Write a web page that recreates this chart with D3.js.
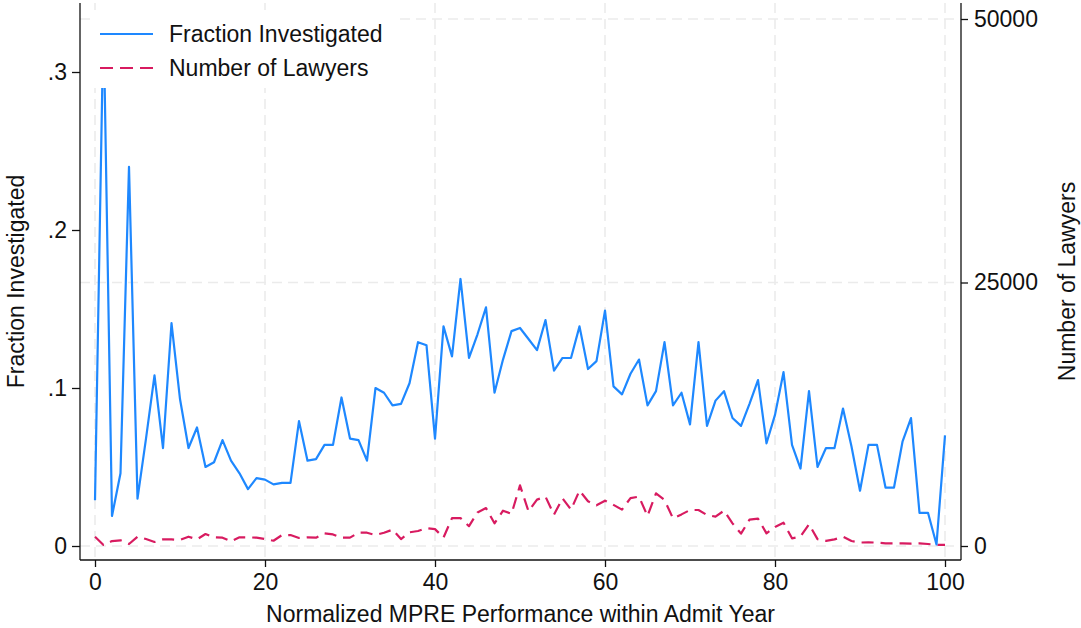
<!DOCTYPE html>
<html>
<head>
<meta charset="utf-8">
<script src="https://cdn.jsdelivr.net/npm/d3@7"></script>
<style>
  html, body { margin: 0; padding: 0; background: #fff; }
  svg { display: block; font-family: "Liberation Sans", Arial, Helvetica, sans-serif; }
</style>
</head>
<body>
<svg id="chart" width="1081" height="628"></svg>
<script>
// MPRE score percentile (0-100)
const mpreScore = d3.range(0, 101);

// Share of lawyers investigated at each score
const fractionInvestigated = [
  0.029, 0.335, 0.019, 0.046, 0.240, 0.030, 0.068, 0.108, 0.062, 0.141,
  0.093, 0.062, 0.075, 0.050, 0.053, 0.067, 0.054, 0.046, 0.036, 0.043,
  0.042, 0.039, 0.040, 0.040, 0.079, 0.054, 0.055, 0.064, 0.064, 0.094,
  0.068, 0.067, 0.054, 0.100, 0.097, 0.089, 0.090, 0.103, 0.129, 0.127,
  0.068, 0.139, 0.120, 0.169, 0.119, 0.134, 0.151, 0.097, 0.118, 0.136,
  0.138, 0.131, 0.124, 0.143, 0.111, 0.119, 0.119, 0.139, 0.112, 0.117,
  0.149, 0.101, 0.096, 0.109, 0.118, 0.089, 0.098, 0.129, 0.089, 0.097,
  0.077, 0.129, 0.076, 0.092, 0.098, 0.081, 0.076, 0.090, 0.105, 0.065,
  0.083, 0.110, 0.064, 0.049, 0.098, 0.050, 0.062, 0.062, 0.087, 0.063,
  0.035, 0.064, 0.064, 0.037, 0.037, 0.066, 0.081, 0.021, 0.021, 0.001,
  0.070
];

// Number of lawyers at each score
const numberOfLawyers = [
  880, 100, 470, 540, 190, 880, 660, 380, 630, 630,
  570, 880, 630, 1140, 825, 790, 440, 825, 825, 790,
  660, 500, 1040, 1040, 760, 825, 790, 1200, 1100, 790,
  790, 1260, 1260, 1040, 1260, 1550, 660, 1300, 1420, 1700,
  1600, 800, 2650, 2650, 1880, 3180, 3600, 2150, 3350, 3050,
  5750, 3300, 4400, 4680, 2970, 4525, 3450, 5250, 4250, 3860,
  4300, 3900, 3450, 4550, 4680, 2850, 5000, 4365, 2625, 3000,
  3415, 3415, 2940, 2780, 3350, 2150, 1170, 2500, 2600, 1200,
  1800, 2210, 727, 900, 2060, 650, 490, 630, 880, 474,
  330, 350, 316, 253, 253, 253, 220, 253, 190, 110,
  100
];

// Axis ticks
const xTicks = [0, 20, 40, 60, 80, 100];
const leftTicks = [0, 0.1, 0.2, 0.3];
const leftTickLabels = ["0", ".1", ".2", ".3"];
const rightTicks = [0, 25000, 50000];

const seriesNames = ["Fraction Investigated", "Number of Lawyers"];
const seriesColors = ["#1E88FF", "#D81B60"];

const svg = d3.select("#chart");
const fontSize = 23;

// plot region frame
const plotLeft = 80, plotRight = 961, plotTop = 3, plotBottom = 560;

const x = d3.scaleLinear().domain([0, 100]).range([95, 945]);
const yLeft = d3.scaleLinear().domain([0, 0.3]).range([546, 72]);
const yRight = d3.scaleLinear().domain([0, 50000]).range([546, 19]);

const gridColor = "#ebebeb";
const grid = svg.append("g").attr("class", "grid");

// vertical grid at x ticks
grid.selectAll("line.v").data(xTicks).join("line")
  .attr("class", "v")
  .attr("x1", d => x(d)).attr("x2", d => x(d))
  .attr("y1", plotTop).attr("y2", plotBottom)
  .attr("stroke", gridColor).attr("stroke-width", 1.6)
  .attr("stroke-dasharray", "10,6");

// horizontal grid at right-axis ticks
grid.selectAll("line.h").data(rightTicks).join("line")
  .attr("class", "h")
  .attr("x1", plotLeft).attr("x2", plotRight)
  .attr("y1", d => yRight(d)).attr("y2", d => yRight(d))
  .attr("stroke", gridColor).attr("stroke-width", 1.6)
  .attr("stroke-dasharray", "10,6");

// series lines
const fracLine = d3.line()
  .x((d, i) => x(mpreScore[i]))
  .y(d => yLeft(d));
const lawyerLine = d3.line()
  .x((d, i) => x(mpreScore[i]))
  .y(d => yRight(d));

svg.append("path")
  .datum(numberOfLawyers)
  .attr("d", lawyerLine)
  .attr("fill", "none")
  .attr("stroke", seriesColors[1])
  .attr("stroke-width", 2.2)
  .attr("stroke-dasharray", "12,7")
  .attr("stroke-linejoin", "round");

svg.append("path")
  .datum(fractionInvestigated)
  .attr("d", fracLine)
  .attr("fill", "none")
  .attr("stroke", seriesColors[0])
  .attr("stroke-width", 2.2)
  .attr("stroke-linejoin", "round");

// legend, sits inside the plot region on a white ground
const legend = svg.append("g").attr("class", "legend");
legend.append("rect")
  .attr("x", 90).attr("y", 10).attr("width", 308).attr("height", 78)
  .attr("fill", "#fff");
const legendRows = [34, 68];
seriesNames.forEach((name, i) => {
  legend.append("line")
    .attr("x1", 100).attr("x2", 153)
    .attr("y1", legendRows[i]).attr("y2", legendRows[i])
    .attr("stroke", seriesColors[i]).attr("stroke-width", 2.2)
    .attr("stroke-dasharray", i === 1 ? "13,7" : null);
  legend.append("text")
    .attr("x", 169).attr("y", legendRows[i])
    .attr("dy", "0.35em")
    .attr("font-size", fontSize)
    .attr("fill", "#111")
    .text(name);
});

// axes
const axisColor = "#111";

const xAxis = svg.append("g")
  .attr("transform", `translate(0,${plotBottom})`)
  .call(d3.axisBottom(x).tickValues(xTicks).tickSize(7).tickPadding(7).tickFormat(d3.format("d")));

const leftAxis = svg.append("g")
  .attr("transform", `translate(${plotLeft},0)`)
  .call(d3.axisLeft(yLeft).tickValues(leftTicks).tickSize(8).tickPadding(5)
    .tickFormat((d, i) => leftTickLabels[i]));

const rightAxis = svg.append("g")
  .attr("transform", `translate(${plotRight},0)`)
  .call(d3.axisRight(yRight).tickValues(rightTicks).tickSize(7).tickPadding(6).tickFormat(d3.format("d")));

[xAxis, leftAxis, rightAxis].forEach(g => {
  g.select(".domain").remove();
  g.selectAll(".tick line").attr("stroke", axisColor).attr("stroke-width", 1.3);
  g.selectAll(".tick text")
    .attr("font-size", fontSize)
    .attr("font-family", "Liberation Sans, Arial, sans-serif")
    .attr("fill", "#111");
});

// axis lines spanning the full plot region
svg.append("line").attr("x1", plotLeft).attr("x2", plotLeft)
  .attr("y1", plotTop).attr("y2", plotBottom)
  .attr("stroke", axisColor).attr("stroke-width", 1.3);
svg.append("line").attr("x1", plotRight).attr("x2", plotRight)
  .attr("y1", plotTop).attr("y2", plotBottom)
  .attr("stroke", axisColor).attr("stroke-width", 1.3);
svg.append("line").attr("x1", plotLeft).attr("x2", plotRight)
  .attr("y1", plotBottom).attr("y2", plotBottom)
  .attr("stroke", axisColor).attr("stroke-width", 1.3);

// axis titles
svg.append("text")
  .attr("x", (plotLeft + plotRight) / 2).attr("y", 614)
  .attr("dy", "0.35em")
  .attr("text-anchor", "middle")
  .attr("font-size", fontSize).attr("fill", "#111")
  .text("Normalized MPRE Performance within Admit Year");

svg.append("text")
  .attr("transform", `translate(16,${(plotTop + plotBottom) / 2}) rotate(-90)`)
  .attr("dy", "0.35em")
  .attr("text-anchor", "middle")
  .attr("font-size", fontSize).attr("fill", "#111")
  .text("Fraction Investigated");

svg.append("text")
  .attr("transform", `translate(1067,${(plotTop + plotBottom) / 2}) rotate(-90)`)
  .attr("dy", "0.35em")
  .attr("text-anchor", "middle")
  .attr("font-size", fontSize).attr("fill", "#111")
  .text("Number of Lawyers");
</script>
</body>
</html>
